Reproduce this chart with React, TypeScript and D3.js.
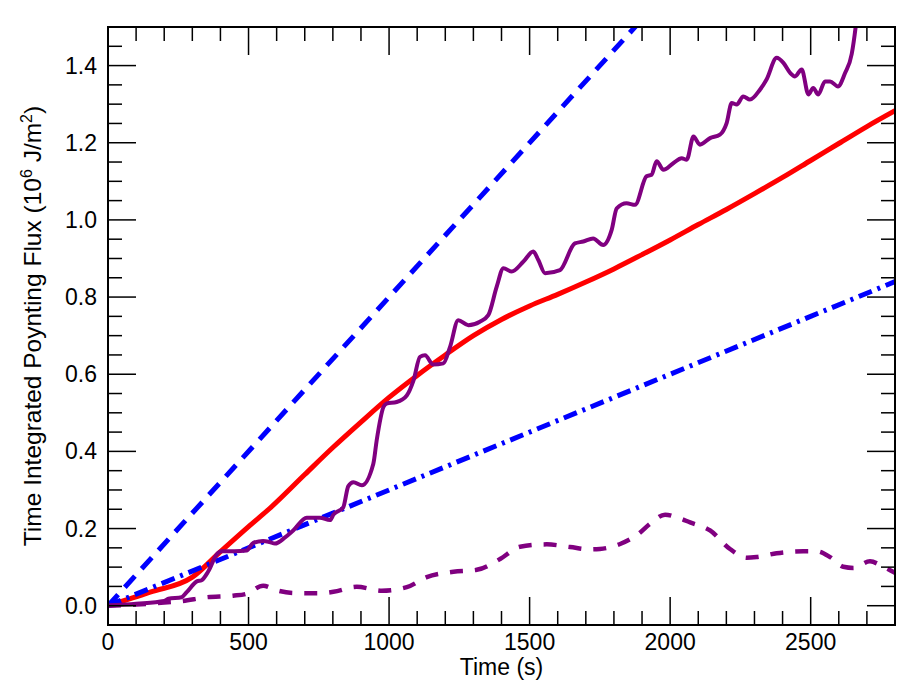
import React from "react";
import * as d3 from "d3";

// ---- data ----
const redTime = [0, 150, 300, 400, 500, 575, 700, 800, 900, 1000, 1100, 1200, 1300, 1400, 1500, 1600, 1700, 1800, 1900, 2000, 2100, 2200, 2300, 2400, 2500, 2600, 2700, 2800];
const redFlux = [0, 0.035, 0.074, 0.14, 0.205, 0.252, 0.34, 0.41, 0.476, 0.54, 0.597, 0.65, 0.7, 0.742, 0.777, 0.807, 0.839, 0.873, 0.91, 0.948, 0.988, 1.027, 1.068, 1.11, 1.154, 1.198, 1.242, 1.283];

const purpleTime = [0, 100, 200, 215, 262, 280, 316, 333, 356, 387, 405, 450, 493, 517, 552, 575, 594, 630, 659, 707, 754, 790, 802, 837, 855, 873, 903, 944, 956, 980, 991, 1027, 1063, 1087, 1110, 1128, 1157, 1193, 1217, 1246, 1282, 1323, 1353, 1383, 1407, 1436, 1478, 1513, 1531, 1555, 1608, 1661, 1691, 1726, 1762, 1792, 1810, 1845, 1875, 1916, 1934, 1952, 1976, 2011, 2041, 2059, 2083, 2106, 2142, 2177, 2201, 2219, 2237, 2260, 2284, 2320, 2343, 2379, 2403, 2427, 2444, 2468, 2492, 2509, 2527, 2551, 2569, 2597, 2622, 2646, 2660, 2680];
const purpleFlux = [0, 0.005, 0.012, 0.018, 0.022, 0.035, 0.063, 0.066, 0.088, 0.133, 0.141, 0.141, 0.143, 0.163, 0.168, 0.165, 0.161, 0.177, 0.195, 0.228, 0.228, 0.222, 0.236, 0.255, 0.31, 0.32, 0.312, 0.368, 0.429, 0.515, 0.524, 0.528, 0.545, 0.584, 0.645, 0.649, 0.625, 0.628, 0.671, 0.74, 0.727, 0.736, 0.753, 0.827, 0.875, 0.866, 0.892, 0.918, 0.896, 0.862, 0.87, 0.939, 0.944, 0.952, 0.935, 0.974, 1.03, 1.043, 1.039, 1.113, 1.117, 1.152, 1.13, 1.147, 1.16, 1.156, 1.216, 1.195, 1.212, 1.221, 1.251, 1.303, 1.299, 1.32, 1.312, 1.338, 1.364, 1.42, 1.407, 1.381, 1.372, 1.39, 1.325, 1.342, 1.325, 1.359, 1.359, 1.346, 1.38, 1.43, 1.5, 1.65];

const purpleDashTime = [0, 100, 200, 262, 351, 445, 493, 552, 600, 659, 742, 802, 885, 974, 1063, 1134, 1229, 1312, 1395, 1466, 1561, 1644, 1715, 1750, 1822, 1887, 1928, 1982, 2023, 2071, 2142, 2213, 2272, 2308, 2379, 2474, 2521, 2569, 2616, 2652, 2711, 2758, 2800];
const purpleDashFlux = [0, 0.003, 0.008, 0.012, 0.022, 0.026, 0.031, 0.052, 0.04, 0.033, 0.032, 0.036, 0.049, 0.039, 0.048, 0.074, 0.088, 0.093, 0.121, 0.153, 0.159, 0.152, 0.146, 0.147, 0.16, 0.186, 0.212, 0.236, 0.229, 0.216, 0.195, 0.147, 0.124, 0.126, 0.136, 0.141, 0.141, 0.126, 0.101, 0.098, 0.115, 0.101, 0.085];

const blueDashTime = [0, 2800];
const blueDashFlux = [0, 2.24];
const blueDashDotTime = [0, 2800];
const blueDashDotFlux = [0, 0.84];

const xMajorTicks = [0, 500, 1000, 1500, 2000, 2500];
const yMajorTicks = [0.0, 0.2, 0.4, 0.6, 0.8, 1.0, 1.2, 1.4];

// ---- layout ----
const W = 923, H = 694;
const L = 108, R = 895, T = 27, B = 625;
const FONT = "'Liberation Sans', Arial, Helvetica, sans-serif";

export default function App() {
  const x = d3.scaleLinear().domain([0, 2800]).range([L, R]);
  const y = d3.scaleLinear().domain([-0.05, 1.5]).range([B, T]);

  const mk = (ts: number[], vs: number[], curve: any) =>
    d3.line<number>().x((_, i) => x(ts[i])).y((_, i) => y(vs[i])).curve(curve)(ts) || "";

  const redPath = mk(redTime, redFlux, d3.curveMonotoneX);
  const purplePath = mk(purpleTime, purpleFlux, d3.curveMonotoneX);
  const purpleDashPath = mk(purpleDashTime, purpleDashFlux, d3.curveMonotoneX);
  const blueDashPath = mk(blueDashTime, blueDashFlux, d3.curveLinear);
  const blueDashDotPath = mk(blueDashDotTime, blueDashDotFlux, d3.curveLinear);

  const xMinor = d3.range(0, 2801, 100);
  const yMinor = d3.range(-1, 31).map((k) => k * 0.05);
  const MAJ = 28, MIN = 14;
  const isXMajor = (t: number) => t % 500 === 0;
  const isYMajor = (v: number) => Math.round(v * 100) % 20 === 0;

  return (
    <svg width={W} height={H} style={{ position: "absolute", left: 0, top: 0, background: "#fff" }}>
      <defs>
        <clipPath id="plotclip">
          <rect x={L} y={T} width={R - L} height={B - T} />
        </clipPath>
      </defs>
      <rect x={0} y={0} width={W} height={H} fill="#fff" />
      <g clipPath="url(#plotclip)" fill="none">
        <path d={redPath} stroke="#ff0000" strokeWidth={5} />
        <path d={blueDashPath} stroke="#0000ff" strokeWidth={5} strokeDasharray="15,10" />
        <path d={blueDashDotPath} stroke="#0000ff" strokeWidth={5} strokeDasharray="14,6,3,6" />
        <path d={purpleDashPath} stroke="#800080" strokeWidth={4.5} strokeDasharray="13,12" />
        <path d={purplePath} stroke="#800080" strokeWidth={4} strokeLinejoin="round" />
      </g>
      <g stroke="#000" strokeWidth={1.5}>
        {xMinor.map((t) => {
          const len = isXMajor(t) ? MAJ : MIN;
          return (
            <g key={"xt" + t}>
              <line x1={x(t)} x2={x(t)} y1={B} y2={B - len} />
              <line x1={x(t)} x2={x(t)} y1={T} y2={T + len} />
            </g>
          );
        })}
        {yMinor.map((v) => {
          const len = isYMajor(v) ? MAJ : MIN;
          return (
            <g key={"yt" + v.toFixed(2)}>
              <line x1={L} x2={L + len} y1={y(v)} y2={y(v)} />
              <line x1={R} x2={R - len} y1={y(v)} y2={y(v)} />
            </g>
          );
        })}
        <rect x={L} y={T} width={R - L} height={B - T} fill="none" strokeWidth={2} />
      </g>
      <g fontFamily={FONT} fontSize={23} fill="#000">
        {xMajorTicks.map((t) => (
          <text key={"xl" + t} x={x(t)} y={650} textAnchor="middle">{t}</text>
        ))}
        {yMajorTicks.map((v) => (
          <text key={"yl" + v} x={97} y={y(v) + 8} textAnchor="end">{d3.format(".1f")(v)}</text>
        ))}
      </g>
      <text x={(L + R) / 2} y={675} textAnchor="middle" fontFamily={FONT} fontSize={23}>Time (s)</text>
      <text transform={`translate(41,${(T + B) / 2}) rotate(-90)`} textAnchor="middle" fontFamily={FONT} fontSize={24.5}>
        Time Integrated Poynting Flux (10<tspan dy={-9} fontSize={16}>6</tspan>
        <tspan dy={9}> J/m</tspan>
        <tspan dy={-9} fontSize={16}>2</tspan>
        <tspan dy={9}>)</tspan>
      </text>
    </svg>
  );
}
